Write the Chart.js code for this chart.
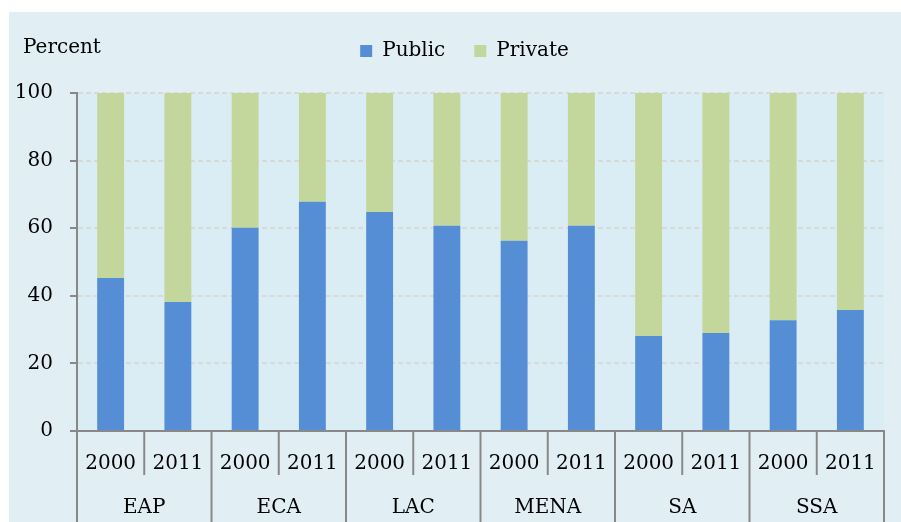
<!DOCTYPE html>
<html>
<head>
<meta charset="utf-8">
<script src="https://cdn.jsdelivr.net/npm/chart.js@4"></script>
<style>
  html, body { margin: 0; padding: 0; background: #fff; }
  #wrap { position: absolute; left: 9px; top: 12px; width: 892px; height: 510px; background: #e1eff5; }
</style>
</head>
<body>
<div id="wrap"><canvas id="grafico"></canvas></div>
<script>
// dados
var regioes = ['EAP', 'ECA', 'LAC', 'MENA', 'SA', 'SSA'];
var anos = ['2000', '2011', '2000', '2011', '2000', '2011', '2000', '2011', '2000', '2011', '2000', '2011'];
var publico = [45.3, 38.2, 60.1, 67.8, 64.8, 60.7, 56.3, 60.7, 28.1, 29.0, 32.8, 35.8];
var privado = [54.7, 61.8, 39.9, 32.2, 35.2, 39.3, 43.7, 39.3, 71.9, 71.0, 67.2, 64.2];
var ticksY = [0, 20, 40, 60, 80, 100];

var fonte = 'DejaVu Serif';
var cinza = '#888888';

// fundo da area do grafico + texto "Percent" + divisorias do eixo x
const extras = {
  id: 'extras',
  beforeInit(chart) {
    const fitOrig = chart.legend.fit;
    chart.legend.fit = function () {
      fitOrig.bind(chart.legend)();
      this.height = 81;
    };
  },
  afterLayout(chart) {
    // legenda um pouco a direita, como no original
    chart.legend.left += 18;
    chart.legend.right += 18;
  },
  beforeDraw(chart) {
    const a = chart.chartArea;
    const c = chart.ctx;
    c.save();
    c.fillStyle = '#dbedf4';
    c.fillRect(a.left, a.top, a.right - a.left, a.bottom - a.top);
    c.fillStyle = '#000';
    c.font = '20px "' + fonte + '"';
    c.textBaseline = 'middle';
    c.fillText('Percent', 14, 36);
    c.restore();
  },
  afterDraw(chart) {
    const x = chart.scales.x;
    const c = chart.ctx;
    const meio = (x.getPixelForValue(1) - x.getPixelForValue(0)) / 2;
    c.save();
    c.strokeStyle = cinza;
    c.lineWidth = 2;
    for (let i = 0; i <= anos.length; i++) {
      const px = i < anos.length ? x.getPixelForValue(i) - meio : x.getPixelForValue(i - 1) + meio;
      const fim = (i % 2 === 0) ? chart.height : x.bottom;
      c.beginPath();
      c.moveTo(px, x.top);
      c.lineTo(px, fim);
      c.stroke();
    }
    c.restore();
  }
};

const ctx = document.getElementById('grafico');
ctx.width = 892;
ctx.height = 510;

new Chart(ctx, {
  type: 'bar',
  data: {
    labels: anos,
    datasets: [
      { label: 'Public', data: publico, backgroundColor: '#558ed5' },
      { label: 'Private', data: privado, backgroundColor: '#c3d69b' }
    ]
  },
  options: {
    responsive: false,
    animation: false,
    layout: { padding: { left: 0, right: 17, top: 0, bottom: 0 } },
    datasets: { bar: { barPercentage: 0.4, categoryPercentage: 1 } },
    plugins: {
      legend: {
        position: 'top',
        labels: {
          boxWidth: 12, boxHeight: 12, padding: 29,
          color: '#000',
          font: { family: fonte, size: 20 }
        }
      },
      tooltip: { enabled: false }
    },
    scales: {
      x: {
        stacked: true,
        grid: { display: false },
        border: { color: cinza, width: 2 },
        ticks: { color: '#000', padding: 13, maxRotation: 0, autoSkip: false, font: { family: fonte, size: 20 } },
        afterFit(s) { s.height = 44; }
      },
      x2: {
        type: 'category',
        labels: regioes,
        position: 'bottom',
        offset: true,
        grid: { display: false },
        border: { display: false },
        ticks: { color: '#000', padding: 13, maxRotation: 0, font: { family: fonte, size: 20 } },
        afterFit(s) { s.height = 47; }
      },
      y: {
        stacked: true,
        min: 0,
        max: 100,
        afterBuildTicks(s) { s.ticks = ticksY.map(v => ({ value: v })); },
        grid: {
          color: '#d9d9d9', lineWidth: 2,
          tickColor: cinza, tickLength: 7, tickBorderDash: [], tickWidth: 2
        },
        border: { color: cinza, width: 2, dash: [5, 3] },
        ticks: { color: '#000', padding: 17, font: { family: fonte, size: 20 } },
        afterFit(s) { s.width = 68; }
      }
    }
  },
  plugins: [extras]
});
</script>
</body>
</html>
